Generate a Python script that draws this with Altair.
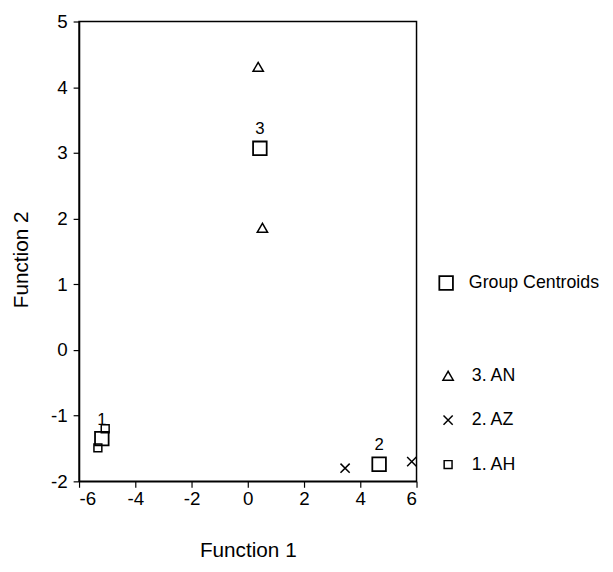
import altair as alt
import pandas as pd

# Group cases (discriminant scores)
group_names = ["3. AN", "3. AN", "2. AZ", "2. AZ", "1. AH", "1. AH"]
func1_vals = [0.37, 0.52, 3.46, 5.83, -5.07, -5.33]
func2_vals = [4.31, 1.86, -1.80, -1.70, -1.20, -1.49]

# Group centroids
centroid_labels = ["1", "2", "3"]
centroid_f1 = [-5.19, 4.67, 0.43]
centroid_f2 = [-1.35, -1.74, 3.07]
centroid_type = ["Group Centroids", "Group Centroids", "Group Centroids"]

legend_order = ["3. AN", "2. AZ", "1. AH"]
x_ticks = [-6, -4, -2, 0, 2, 4, 6]
y_ticks = [-2, -1, 0, 1, 2, 3, 4, 5]

pts = pd.DataFrame({"f1": func1_vals, "f2": func2_vals, "group": group_names})
cen = pd.DataFrame({"f1": centroid_f1, "f2": centroid_f2,
                    "label": centroid_labels, "ctype": centroid_type})

FONT = "Liberation Sans"
XPATH = "M-1,-1L1,1M-1,1L1,-1"

xenc = alt.X("f1:Q", title="Function 1",
             scale=alt.Scale(domain=[-6, 6], nice=False, zero=False),
             axis=alt.Axis(values=x_ticks, labelExpr="'' + datum.value",
                           titleY=70, titleBaseline="middle"))
yenc = alt.Y("f2:Q", title="Function 2",
             scale=alt.Scale(domain=[-2, 5], nice=False, zero=False),
             axis=alt.Axis(values=y_ticks, labelExpr="'' + datum.value",
                           titleX=-58, titleY=241, titleBaseline="middle"))

group_legend = alt.Legend(title=None, orient="none", legendX=365, legendY=350,
                          rowPadding=27, labelOffset=15, symbolStrokeColor="black",
                          symbolFillColor="transparent", symbolStrokeWidth=1.5)

points = alt.Chart(pts).mark_point(filled=False, color="black", strokeWidth=1.5, opacity=1).encode(
    x=xenc, y=yenc,
    shape=alt.Shape("group:N",
                    scale=alt.Scale(domain=legend_order, range=["triangle-up", XPATH, "square"]),
                    legend=group_legend),
    size=alt.Size("group:N",
                  scale=alt.Scale(domain=legend_order, range=[110, 64, 49]),
                  legend=group_legend),
)

centroids = alt.Chart(cen).mark_point(filled=False, color="black", strokeWidth=1.8,
                                      size=190, opacity=1).encode(
    x=xenc, y=yenc,
    shape=alt.Shape("ctype:N", scale=alt.Scale(domain=["Group Centroids"], range=["square"]),
                    legend=alt.Legend(title=None, orient="none", legendX=363, legendY=256,
                                      labelOffset=14, symbolSize=190,
                                      symbolStrokeColor="black", symbolFillColor="transparent",
                                      symbolStrokeWidth=1.8)),
)

labels = alt.Chart(cen).mark_text(dy=-19, fontSize=17, font=FONT, color="black").encode(
    x=xenc, y=yenc, text="label:N")

chart = alt.layer(points, centroids, labels).resolve_scale(
    shape="independent", size="independent"
).resolve_legend(shape="independent", size="independent").properties(
    width=342, height=466,
    autosize=alt.AutoSizeParams(type="none"),
    padding={"left": 72, "top": 10, "right": 191, "bottom": 76},
    background="white",
).configure(font=FONT).configure_view(
    stroke="black", strokeWidth=1.5
).configure_axis(
    grid=False, domainColor="black", domainWidth=1.5, tickColor="black",
    tickSize=6, tickWidth=1.2, labelColor="black", labelFontSize=19, labelFont=FONT,
    titleColor="black", titleFontSize=21, titleFont=FONT, titleFontWeight="normal",
    labelPadding=2,
).configure_axisLeft(labelPadding=6).configure_legend(
    labelFont=FONT, labelFontSize=18, labelColor="black", labelLimit=300
)

chart.save("out.html", embed_options={"renderer": "svg", "actions": False})
